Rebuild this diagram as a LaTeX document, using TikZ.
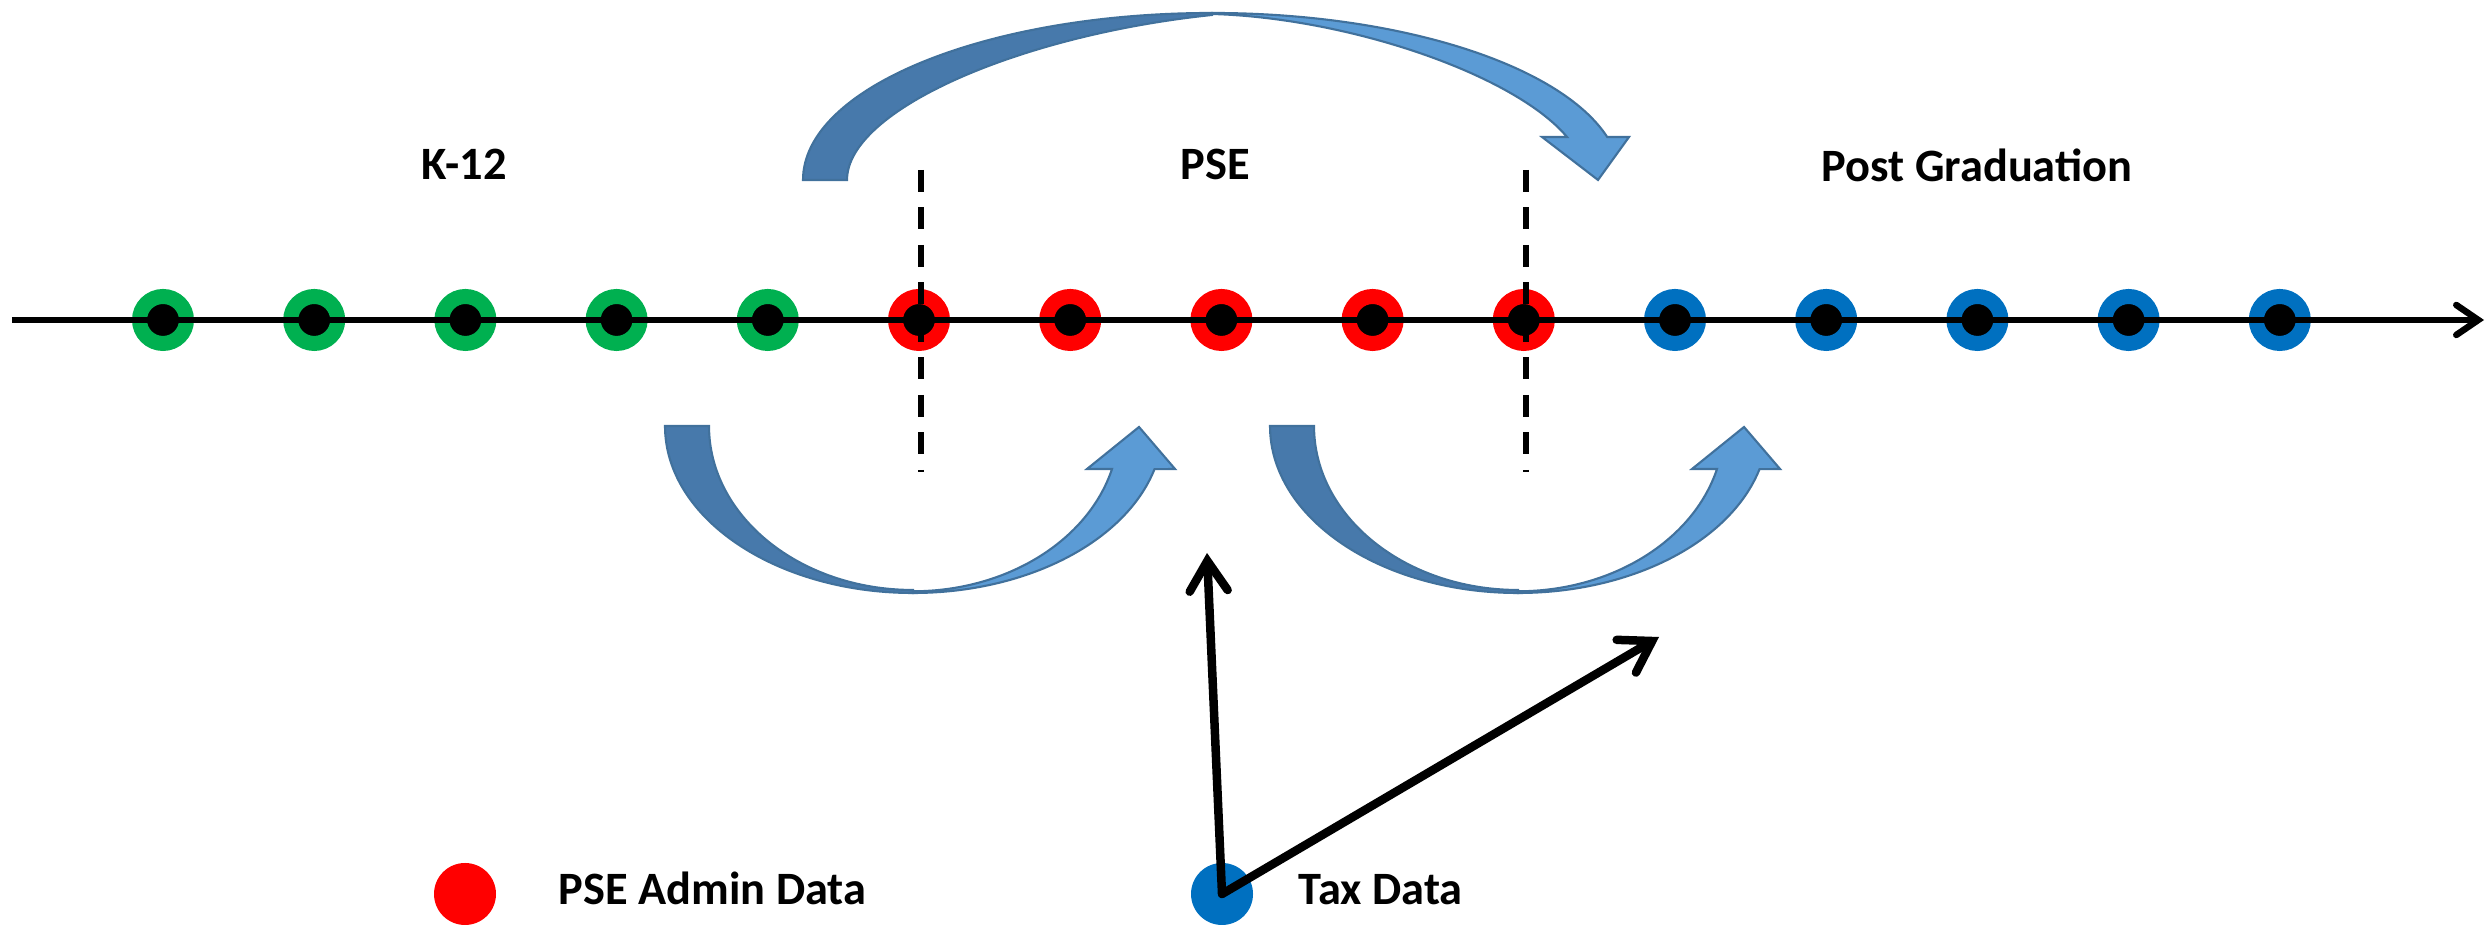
\documentclass[tikz,border=0pt]{standalone}
\usepackage{fontspec}
\setmainfont{Carlito}
\usetikzlibrary{arrows.meta}
\definecolor{kgreen}{RGB}{0,176,80}
\definecolor{pred}{RGB}{255,0,0}
\definecolor{tblue}{RGB}{0,112,192}
\definecolor{arrowdark}{RGB}{71,121,171}
\definecolor{arrowlight}{RGB}{91,155,213}
\definecolor{arrowedge}{RGB}{65,113,156}
\tikzset{
  tdot/.style={circle, draw=#1, line width=0.15cm, fill=black, minimum size=0.47cm, inner sep=0},
  keydot/.style={circle, fill=#1, minimum size=0.62cm, inner sep=0},
  lbl/.style={font=\bfseries\fontsize{13.2}{16}\selectfont, inner sep=0, anchor=base},
  timeline/.style={line width=0.065cm, -{Straight Barb[length=0.22cm, width=0.3cm, line cap=round]}},
  divider/.style={line width=0.055cm, dash pattern=on 0.22cm off 0.155cm},
  taxarrow/.style={line width=0.085cm, line cap=round, -{Straight Barb[length=0.3cm, width=0.38cm, line cap=round]}},
  backpart/.style={fill=arrowdark, draw=arrowedge, line width=0.6pt},
  frontpart/.style={fill=arrowlight, draw=arrowedge, line width=0.6pt}
}
\begin{document}
\begin{tikzpicture}
\useasboundingbox (0,0) rectangle (24.89,9.25);
% Dots on the time line
\foreach \i in {0,...,4}
  \node[tdot=kgreen] (d\i) at ({1.63+1.512*\i},6.05) {};
\foreach \i in {5,...,9}
  \node[tdot=pred] (d\i) at ({1.63+1.512*\i},6.05) {};
\foreach \i in {10,...,14}
  \node[tdot=tblue] (d\i) at ({1.63+1.512*\i},6.05) {};
% Time line
\coordinate (tstart) at (0.12,6.05);
\coordinate (tend) at (24.84,6.05);
\draw[timeline] (tstart) -- (tend);
% Dividers
\coordinate (div1top) at (9.21,7.55);
\coordinate (div1bot) at (9.21,4.53);
\coordinate (div2top) at (15.26,7.55);
\coordinate (div2bot) at (15.26,4.53);
\draw[divider] (div1top) -- (div1bot);
\draw[divider] (div2top) -- (div2bot);
% Stage labels
\node[lbl] (k12) at (4.64,7.45) {K-12};
\node[lbl] (pse) at (12.15,7.45) {PSE};
\node[lbl] (postgrad) at (19.77,7.43) {Post Graduation};
% Upper curved arrow
\fill[backpart] (8.03,7.45) arc[start angle=180, end angle=90, x radius=4.09, y radius=1.67]
  -- (12.12,9.10) .. controls (10.2,8.9) and (8.47,8.15) .. (8.47,7.45) -- cycle;
\fill[frontpart] (12.12,9.12) arc[start angle=90, end angle=14.9, x radius=4.09, y radius=1.67]
  -- (16.29,7.88) -- (15.98,7.45) -- (15.42,7.88) -- (15.67,7.88)
  .. controls (15.15,8.5) and (13.5,9.07) .. (12.12,9.11) -- cycle;
% Lower curved arrows
\foreach \s in {0,6.05} {
  \begin{scope}[xshift=\s cm]
    \fill[backpart] (6.65,4.99) arc[start angle=180, end angle=270, x radius=2.48, y radius=1.67]
      -- (9.13,3.35) arc[start angle=270, end angle=180, x radius=2.04, y radius=1.64] -- cycle;
    \fill[frontpart] (9.13,3.32) arc[start angle=270, end angle=345, x radius=2.50, y radius=1.67]
      -- (11.75,4.56) -- (11.39,4.98) -- (10.87,4.56) -- (11.12,4.56)
      arc[start angle=345, end angle=270, x radius=2.06, y radius=1.65] -- cycle;
  \end{scope}
}
% Legend
\node[keydot=pred] (admindot) at (4.65,0.31) {};
\node[lbl, anchor=base west] (admin) at (5.58,0.20) {PSE Admin Data};
\node[keydot=tblue] (taxdot) at (12.22,0.31) {};
\node[lbl, anchor=base west] (tax) at (12.98,0.20) {Tax Data};
% Tax data links
\coordinate (taxup) at (12.07,3.72);
\coordinate (taxright) at (16.59,2.88);
\draw[taxarrow] (taxdot.center) -- (taxup);
\draw[taxarrow] (taxdot.center) -- (taxright);
\end{tikzpicture}
\end{document}
